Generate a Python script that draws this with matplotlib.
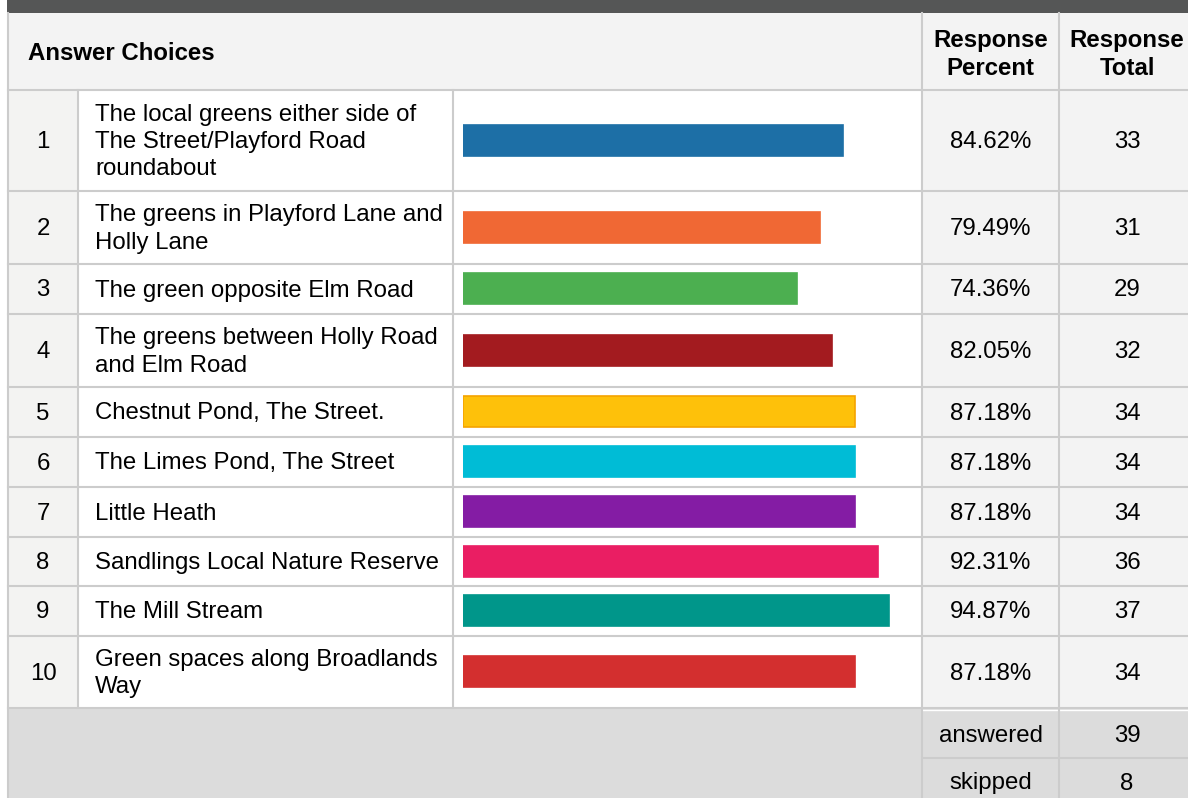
"""Survey results table: which green spaces respondents value (bars = response percent)."""
import matplotlib
matplotlib.use("Agg")
import matplotlib.pyplot as plt
from matplotlib.patches import Rectangle

plt.rcParams["font.family"] = ["Liberation Sans", "DejaVu Sans"]

# data
choices = [
    "The local greens either side of\nThe Street/Playford Road\nroundabout",
    "The greens in Playford Lane and\nHolly Lane",
    "The green opposite Elm Road",
    "The greens between Holly Road\nand Elm Road",
    "Chestnut Pond, The Street.",
    "The Limes Pond, The Street",
    "Little Heath",
    "Sandlings Local Nature Reserve",
    "The Mill Stream",
    "Green spaces along Broadlands\nWay",
]
percent = [84.62, 79.49, 74.36, 82.05, 87.18, 87.18, 87.18, 92.31, 94.87, 87.18]
totals = [33, 31, 29, 32, 34, 34, 34, 36, 37, 34]
answered = 39
skipped = 8
bar_colors = ["#1d6fa6", "#f06834", "#4caf50", "#a31b1f", "#fec10a",
              "#00bcd6", "#841ca4", "#ea1e63", "#00968a", "#d32f2f"]

# layout (pixels)
W, H = 1188, 798
row_edges = [90, 191, 264, 314, 387, 437, 487, 537, 586, 636, 708]
x_left, x_num, x_txt, x_bar, x_pct = 8, 78, 453, 922, 1059
bar_x0, bar_x100 = 462.5, 912.5
LINE = "#cccccc"
FS = 17.3
DY = 1.5  # nudge text down to sit like the reference

fig = plt.figure(figsize=(W / 100, H / 100), dpi=100)
ax = fig.add_axes([0, 0, 1, 1])
ax.set_xlim(0, W); ax.set_ylim(H, 0); ax.axis("off")

def rect(x0, y0, x1, y1, c):
    ax.add_patch(Rectangle((x0, y0), x1 - x0, y1 - y0, color=c, lw=0, zorder=0))

# backgrounds
rect(7, 0, W, 12.5, "#555656")
rect(x_left, 12.5, W, 90, "#f3f3f3")
rect(x_left, 90, x_num, 708, "#f3f3f2")
rect(x_num, 90, x_bar, 708, "white")
rect(x_bar, 90, W, 708, "#f3f3f3")
rect(x_left, 708, W, H, "#dcdcdc")

lw = 1.5
# horizontal lines
for y in row_edges:
    ax.plot([x_left, W], [y, y], color=LINE, lw=lw, zorder=1)
ax.plot([x_bar, W], [758, 758], color=LINE, lw=lw, zorder=1)
ax.plot([x_bar, W], [710, 710], color="white", lw=1.0, zorder=1)
# vertical lines
ax.plot([x_left, x_left], [12.5, H], color=LINE, lw=lw, zorder=1)
for x in (x_num, x_txt):
    ax.plot([x, x], [90, 708], color=LINE, lw=lw, zorder=1)
for x in (x_bar, x_pct):
    ax.plot([x, x], [12.5, H], color=LINE, lw=lw, zorder=1)

# header
ax.text(28, 52 + DY, "Answer Choices", fontsize=FS, fontweight="bold", va="center", ha="left")
ax.text(990.5, 53 + DY, "Response\nPercent", fontsize=FS, fontweight="bold", va="center",
        ha="center", linespacing=1.25)
ax.text(1127, 53 + DY, "Response\nTotal", fontsize=FS, fontweight="bold", va="center",
        ha="center", linespacing=1.25)

centers = [(a + b) / 2 for a, b in zip(row_edges[:-1], row_edges[1:])]
for i, (lab, p, t, yc) in enumerate(zip(choices, percent, totals, centers)):
    ax.text(43, yc + DY, str(i + 1), fontsize=FS, ha="center", va="center")
    ax.text(95, yc + DY, lab, fontsize=FS, ha="left", va="center", linespacing=1.3)
    ax.text(990.5, yc + DY, f"{p:.2f}%", fontsize=FS, ha="center", va="center")
    ax.text(1127, yc + DY, str(t), fontsize=FS, ha="center", va="center")

# footer
ax.text(990.5, 734 + DY, "answered", fontsize=FS, ha="center", va="center")
ax.text(1127, 734 + DY, str(answered), fontsize=FS, ha="center", va="center")
ax.text(990.5, 782 + DY, "skipped", fontsize=FS, ha="center", va="center")
ax.text(1127, 782 + DY, str(skipped), fontsize=FS, ha="center", va="center")

# bars on their own 0-100% axis
bx = fig.add_axes([bar_x0 / W, 1 - 708 / H, (bar_x100 - bar_x0) / W, (708 - 90) / H])
bx.set_xlim(0, 100); bx.set_ylim(708, 90); bx.axis("off")
edges = ["#f5a300" if c == "#fec10a" else c for c in bar_colors]
bx.barh(centers, percent, height=31, color=bar_colors, edgecolor=edges, linewidth=1.2)

fig.savefig("out.png", dpi=100)
